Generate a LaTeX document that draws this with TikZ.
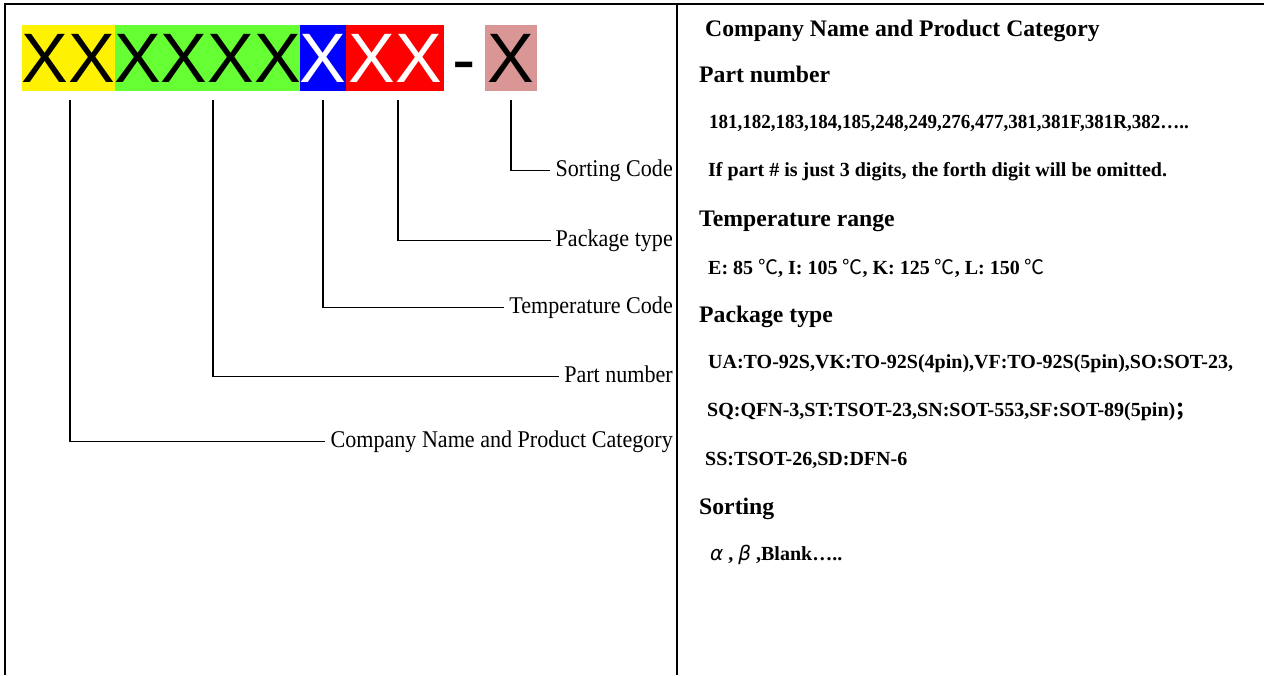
\documentclass[tikz,border=0pt]{standalone}
\usepackage{fontspec}
\setmainfont{Liberation Serif}
\newfontfamily\codefont{Liberation Sans}
\newfontfamily\lblfont[FakeStretch=0.92]{Liberation Serif}
\newfontfamily\narrowbold[FakeStretch=0.95]{Liberation Serif}
\newfontfamily\symfont{DejaVu Sans}
\newfontfamily\cjkfont{Noto Sans CJK SC}
\newcommand{\celsius}{{\cjkfont\mdseries ℃}}
\newcommand{\grk}[1]{{\symfont\mdseries\itshape #1}}
\tikzset{
  frameline/.style={line width=2.2pt, line cap=butt},
  codebox/.style={inner sep=0pt, minimum height=66pt, text depth=0pt,
    font=\codefont\fontsize{70}{70}\selectfont},
  leader/.style={line width=1.4pt},
  leaderlabel/.style={anchor=base east, inner xsep=5pt, inner ysep=0pt,
    text height=16pt, text depth=5.5pt,
    font=\lblfont\fontsize{24}{24}\selectfont},
  headtext/.style={anchor=base west, inner sep=0pt,
    font=\bfseries\fontsize{23.7}{25}\selectfont},
  infotext/.style={anchor=base west, inner sep=0pt,
    font=\bfseries\fontsize{20}{22}\selectfont}
}
\begin{document}
\begin{tikzpicture}[x=1pt,y=-1pt]
\useasboundingbox (0,0) rectangle (1264,675);
% frame
\draw[frameline] (5,675) -- (5,4) -- (1264,4);
\draw[frameline] (677,4) -- (677,675);
% code boxes
\node[codebox, fill={rgb,255:red,102;green,255;blue,51}, minimum width=185pt] (grn) at (207.5,58) {XXXX};
\node[codebox, fill=yellow, minimum width=93pt] (yel) at (68.5,58) {XX};
\node[codebox, fill=blue, text=white, minimum width=46pt] (blu) at (323,58) {X};
\node[codebox, fill=red, text=white, minimum width=98pt] (rd) at (395,58) {XX};
\node[codebox, anchor=base, minimum height=0pt] (dash) at (464,83) {-};
\node[codebox, fill={rgb,255:red,217;green,150;blue,148}, minimum width=52pt] (pnk) at (511,58) {X};
% leader labels
\node[leaderlabel] (lSort) at (678,176) {Sorting Code};
\node[leaderlabel] (lPack) at (678,246) {Package type};
\node[leaderlabel] (lTemp) at (678,313) {Temperature Code};
\node[leaderlabel] (lPart) at (678,382) {Part number};
\node[leaderlabel] (lComp) at (678,447) {Company Name and Product Category};
% leaders
\draw[leader] ([yshift=-9pt]pnk.south) |- (lSort.west);
\draw[leader] ([xshift=3pt,yshift=-9pt]rd.south) |- (lPack.west);
\draw[leader] ([yshift=-9pt]blu.south) |- (lTemp.west);
\draw[leader] ([xshift=5.5pt,yshift=-9pt]grn.south) |- (lPart.west);
\draw[leader] ([xshift=1.5pt,yshift=-9pt]yel.south) |- (lComp.west);
% right column
\node[headtext] (h1) at (705,36) {Company Name and Product Category};
\node[headtext] (h2) at (699,82) {Part number};
\node[infotext, font=\narrowbold\bfseries\fontsize{20}{22}\selectfont] (t1) at (709,128) {181,182,183,184,185,248,249,276,477,381,381F,381R,382…..};
\node[infotext] (t2) at (708,176) {If part \# is just 3 digits, the forth digit will be omitted.};
\node[headtext] (h3) at (699,226) {Temperature range};
\node[infotext] (t3) at (708,274) {E: 85 \celsius, I: 105 \celsius, K: 125 \celsius, L: 150 \celsius};
\node[headtext] (h4) at (699,322) {Package type};
\node[infotext] (t4) at (708,368) {UA:TO-92S,VK:TO-92S(4pin),VF:TO-92S(5pin),SO:SOT-23,};
\node[infotext] (t5) at (707,416) {SQ:QFN-3,ST:TSOT-23,SN:SOT-553,SF:SOT-89(5pin){\cjkfont ；}};
\node[infotext] (t6) at (705,465) {SS:TSOT-26,SD:DFN-6};
\node[headtext] (h5) at (699,514) {Sorting};
\node[infotext] (t7) at (710,560) {\grk{α} , \grk{β} ,Blank…..};
\end{tikzpicture}
\end{document}
